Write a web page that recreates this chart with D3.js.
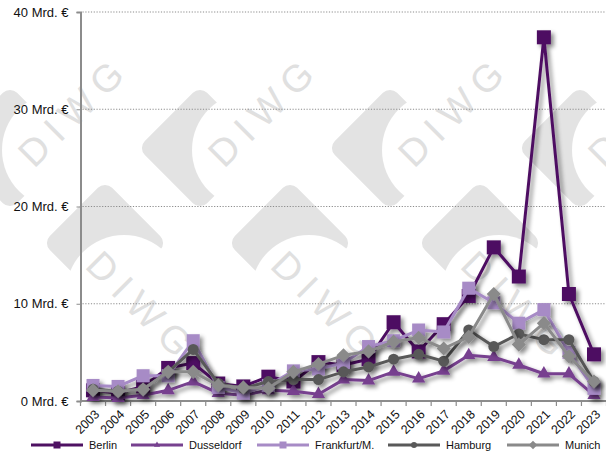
<!DOCTYPE html>
<html>
<head>
<meta charset="utf-8">
<script src="https://cdn.jsdelivr.net/npm/d3@7/dist/d3.min.js"></script>
<style>
  body { margin: 0; background: #fff; }
  text { font-family: "Liberation Sans", Arial, sans-serif; }
</style>
</head>
<body>
<div id="chart"></div>
<script>
// data (Mrd. €)
var years = ["2003","2004","2005","2006","2007","2008","2009","2010","2011","2012","2013",
             "2014","2015","2016","2017","2018","2019","2020","2021","2022","2023"];
var berlin     = [1.1, 0.8, 1.5, 3.4, 3.9, 1.8, 1.5, 2.5, 2.0, 4.0, 3.7, 4.3, 8.1, 5.1, 7.9, 10.8, 15.8, 12.8, 37.4, 11.0, 4.8];
var dusseldorf = [0.4, 0.3, 0.6, 1.1, 2.0, 0.8, 0.6, 1.1, 1.0, 0.7, 2.2, 2.1, 3.0, 2.3, 3.1, 4.7, 4.5, 3.7, 2.8, 2.8, 0.6];
var frankfurt  = [1.6, 1.5, 2.6, 2.6, 6.2, 1.4, 0.8, 1.6, 3.1, 3.3, 3.9, 5.6, 6.2, 7.3, 7.1, 11.6, 10.1, 8.0, 9.4, 5.0, 1.3];
var hamburg    = [1.2, 1.0, 1.2, 3.0, 5.3, 1.8, 1.3, 2.0, 2.2, 2.2, 3.0, 3.5, 4.3, 4.8, 4.1, 7.3, 5.6, 6.9, 6.3, 6.3, 2.0];
var munich     = [1.1, 1.0, 1.2, 3.0, 3.0, 1.6, 1.4, 1.3, 3.0, 3.8, 4.7, 5.1, 6.1, 6.5, 5.4, 6.6, 11.0, 5.8, 8.0, 4.6, 2.0];
var yTicks = [0, 10, 20, 30, 40];

var series = [
  {name: "Berlin",        values: berlin,     color: "#4e1162", marker: "square",   size: 14},
  {name: "Dusseldorf",    values: dusseldorf, color: "#77418f", marker: "triangle", size: 13},
  {name: "Frankfurt/M.",  values: frankfurt,  color: "#a78bc6", marker: "square",   size: 13},
  {name: "Hamburg",       values: hamburg,    color: "#595959", marker: "circle",   size: 11},
  {name: "Munich",        values: munich,     color: "#8a8a8a", marker: "diamond",  size: 10}
];

var W = 606, H = 456;
var plotL = 80.5, plotR = 606.5, plotT = 12, plotB = 401;

var svg = d3.select("#chart").append("svg")
    .attr("width", W).attr("height", H);

var defs = svg.append("defs");
defs.append("filter").attr("id", "shadow")
    .attr("x", "-10%").attr("y", "-10%").attr("width", "130%").attr("height", "130%")
  .append("feDropShadow")
    .attr("dx", 3).attr("dy", 3).attr("stdDeviation", 2)
    .attr("flood-color", "#000").attr("flood-opacity", 0.45);

// white bite of the logo, one per row (screen offsets from the diamond centre)
[["biteA", 50, 2], ["biteB", 19, 50]].forEach(function(b) {
  var m = defs.append("mask").attr("id", b[0])
      .attr("maskUnits", "userSpaceOnUse")
      .attr("x", -100).attr("y", -100).attr("width", 200).attr("height", 200);
  m.append("rect").attr("x", -100).attr("y", -100).attr("width", 200).attr("height", 200).attr("fill", "#fff");
  m.append("circle").attr("cx", b[1]).attr("cy", b[2]).attr("r", 58).attr("fill", "#000");
});

// watermark logos: [x, y, text angle, mask]
var logos = [
  [10, 148, -45, "biteA"], [200, 148, -45, "biteA"], [390, 148, -45, "biteA"], [580, 148, -45, "biteA"],
  [105, 243, 45, "biteB"], [290, 243, 45, "biteB"], [480, 243, 45, "biteB"]
];
var wm = svg.append("g");
logos.forEach(function(l) {
  var g = wm.append("g").attr("transform", "translate(" + l[0] + "," + l[1] + ")");
  g.append("g").attr("mask", "url(#" + l[3] + ")")
    .append("rect")
      .attr("x", -44).attr("y", -44).attr("width", 88).attr("height", 88)
      .attr("rx", 10).attr("fill", "#e3e3e3")
      .attr("transform", "rotate(45)");
  g.append("text")
    .attr("transform", "rotate(" + l[2] + ")")
    .attr("x", 2).attr("y", 32)
    .attr("font-size", 38).attr("letter-spacing", 9)
    .attr("fill", "#e0e0e0")
    .text("DIWG");
});

var x = d3.scaleBand().domain(years).range([plotL, plotR]);
var y = d3.scaleLinear().domain([0, 40]).range([plotB, plotT]);
var cx = function(i) { return x(years[i]) + x.bandwidth() / 2; };

// grid
svg.append("g").selectAll("line")
  .data(yTicks.filter(function(d) { return d > 0; }))
  .enter().append("line")
    .attr("x1", plotL + 2).attr("x2", W)
    .attr("y1", function(d) { return y(d); }).attr("y2", function(d) { return y(d); })
    .attr("stroke", "#8c8c8c").attr("stroke-width", 1.2)
    .attr("stroke-dasharray", "1.2,1.6");

// y axis
var yAxis = svg.append("g")
    .attr("transform", "translate(" + plotL + ",0)")
    .call(d3.axisLeft(y).tickValues(yTicks).tickSize(4).tickFormat(function(d) { return d + " Mrd. €"; }));
yAxis.select(".domain").attr("stroke", "#8c8c8c").attr("stroke-width", 2);
yAxis.selectAll(".tick line").attr("stroke", "#8c8c8c");
yAxis.selectAll(".tick text").attr("font-size", 13).attr("fill", "#111")
    .attr("font-family", "Liberation Sans, Arial, sans-serif").attr("x", -12);

// x axis
var xAxis = svg.append("g").attr("transform", "translate(0," + plotB + ")");
xAxis.append("line").attr("x1", plotL).attr("x2", W)
    .attr("stroke", "#8c8c8c").attr("stroke-width", 2);
xAxis.selectAll(".tk").data(years.concat(["end"])).enter().append("line")
    .attr("x1", function(d, i) { return plotL + i * x.bandwidth(); })
    .attr("x2", function(d, i) { return plotL + i * x.bandwidth(); })
    .attr("y1", 0).attr("y2", 5)
    .attr("stroke", "#8c8c8c").attr("stroke-width", 1.2);
xAxis.selectAll(".lbl").data(years).enter().append("text")
    .attr("transform", function(d, i) { return "translate(" + (cx(i) + 4) + ",11) rotate(-45)"; })
    .attr("text-anchor", "end")
    .attr("dy", "0.35em")
    .attr("font-size", 12.5).attr("fill", "#111")
    .text(function(d) { return d; });

function markerPath(type, s) {
  if (type === "square") return d3.symbol(d3.symbolSquare, s * s)();
  if (type === "triangle") return d3.symbol(d3.symbolTriangle, s * s * 0.45)();
  if (type === "circle") return d3.symbol(d3.symbolCircle, Math.PI * (s / 2) * (s / 2))();
  return d3.symbol(d3.symbolSquare, s * s)();
}

var line = d3.line()
    .x(function(d, i) { return cx(i); })
    .y(function(d) { return y(d); });

series.forEach(function(s) {
  var g = svg.append("g").attr("filter", "url(#shadow)");
  g.append("path")
    .datum(s.values)
    .attr("d", line)
    .attr("fill", "none")
    .attr("stroke", s.color)
    .attr("stroke-width", 3)
    .attr("stroke-linejoin", "round");
  g.selectAll("path.m").data(s.values).enter().append("path")
    .attr("class", "m")
    .attr("d", markerPath(s.marker, s.size))
    .attr("transform", function(d, i) {
      return "translate(" + cx(i) + "," + y(d) + ")" + (s.marker === "diamond" ? " rotate(45)" : "");
    })
    .attr("fill", s.color);
});

// legend
var legendX = [31, 131, 257, 388, 507];
var lg = svg.append("g").attr("transform", "translate(0,445)");
series.forEach(function(s, i) {
  var gx = legendX[i];
  lg.append("line").attr("x1", gx).attr("x2", gx + 52)
    .attr("stroke", s.color).attr("stroke-width", 3);
  lg.append("path")
    .attr("d", markerPath(s.marker, s.marker === "square" ? 7 : 6))
    .attr("transform", "translate(" + (gx + 26) + ",0)" + (s.marker === "diamond" ? " rotate(45)" : ""))
    .attr("fill", s.color);
  lg.append("text").attr("x", gx + 58).attr("dy", "0.35em")
    .attr("font-size", 11).attr("fill", "#111")
    .text(s.name);
});
</script>
</body>
</html>
